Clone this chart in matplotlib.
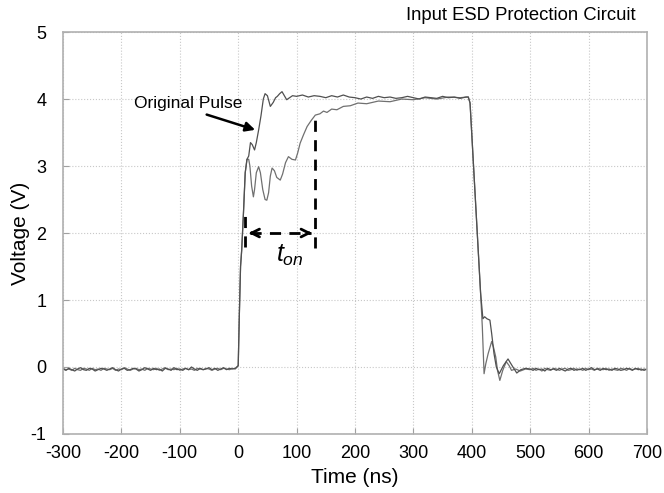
import numpy as np
import matplotlib.pyplot as plt

plt.rcParams['font.family'] = ['Liberation Sans', 'DejaVu Sans']
plt.rcParams['axes.unicode_minus'] = False
plt.rcParams['mathtext.fontset'] = 'custom'
plt.rcParams['mathtext.it'] = 'Liberation Sans:italic'
plt.rcParams['mathtext.rm'] = 'Liberation Sans'

# --- data (time in ns, voltage in V) ---
t_pre = np.arange(-300, 0, 5)
v_pre1 = [-0.03, -0.05, -0.02, -0.04, -0.06, -0.03, -0.01, -0.04, -0.05, -0.02,
          -0.03, -0.06, -0.04, -0.02, -0.03, -0.05, -0.03, -0.01, -0.04, -0.06,
          -0.03, -0.02, -0.05, -0.04, -0.02, -0.03, -0.06, -0.04, -0.01, -0.03,
          -0.05, -0.02, -0.04, -0.03, -0.06, -0.02, -0.03, -0.05, -0.01, -0.04,
          -0.03, -0.05, -0.02, -0.04, 0.00, -0.03, -0.05, -0.02, -0.04, -0.03,
          -0.01, -0.04, -0.02, -0.05, -0.03, -0.01, -0.04, -0.02, -0.03, -0.02]
v_pre2 = [-0.02, -0.04, -0.03, -0.05, -0.02, -0.04, -0.05, -0.02, -0.03, -0.05,
          -0.02, -0.04, -0.03, -0.05, -0.02, -0.03, -0.04, -0.02, -0.05, -0.03,
          -0.04, -0.01, -0.03, -0.05, -0.03, -0.02, -0.04, -0.03, -0.05, -0.02,
          -0.03, -0.04, -0.02, -0.05, -0.03, -0.01, -0.04, -0.03, -0.04, -0.02,
          -0.05, -0.03, -0.02, -0.04, -0.03, -0.05, -0.02, -0.03, -0.04, -0.02,
          -0.03, -0.05, -0.03, -0.02, -0.04, -0.02, -0.03, -0.04, -0.02, -0.03]

# original pulse: rising edge and overshoot
t_rise1 = [0, 2, 4, 6, 9, 12, 15, 18, 21, 24, 28, 31, 35, 39, 43, 46, 50, 55, 60,
           64, 67, 71, 75, 79, 83, 88, 93]
v_rise1 = [0.02, 0.8, 1.5, 1.75, 2.3, 2.9, 3.1, 3.15, 3.35, 3.32, 3.24, 3.35, 3.54,
           3.75, 4.0, 4.08, 4.05, 3.89, 3.95, 4.02, 4.04, 4.08, 4.11, 4.05, 3.99,
           4.02, 4.05]
t_top1 = np.arange(100, 391, 10)
v_top1 = [4.04, 4.06, 4.03, 4.05, 4.04, 4.02, 4.05, 4.03, 4.06, 4.03,
          4.02, 4.00, 4.03, 4.01, 4.04, 4.02, 4.03, 4.01, 4.02, 4.04,
          4.02, 4.00, 4.03, 4.02, 4.01, 4.04, 4.02, 4.03, 4.01, 4.03]
t_fall1 = [394, 397, 400, 405, 410, 415, 419, 422, 426, 431, 434, 438, 442, 447,
           454, 462, 469, 477, 484, 492]
v_fall1 = [4.03, 3.94, 3.47, 2.68, 1.9, 1.11, 0.72, 0.75, 0.72, 0.7, 0.5, 0.2, 0.0,
           -0.1, 0.02, 0.12, 0.02, -0.09, -0.04, -0.02]

# protected pulse: slower turn-on with ringing
t_rise2 = [0, 2, 4, 6, 9, 12, 15, 18, 20, 23, 26, 28, 31, 35, 38, 42, 46, 49, 52,
           55, 58, 62, 66, 72, 76, 81, 86, 92, 98, 102, 106, 112, 118, 125, 132,
           140, 146, 152, 160, 169, 180, 192, 205, 220, 240, 260, 280, 300, 320,
           340, 360, 380, 392]
v_rise2 = [0.02, 0.8, 1.5, 1.75, 2.3, 2.9, 3.1, 3.1, 3.0, 2.7, 2.54, 2.65, 2.9,
           2.99, 2.9, 2.65, 2.5, 2.49, 2.6, 2.85, 2.97, 2.93, 2.83, 2.79, 2.88,
           3.05, 3.14, 3.1, 3.09, 3.2, 3.34, 3.47, 3.59, 3.68, 3.76, 3.78, 3.82,
           3.8, 3.85, 3.84, 3.89, 3.9, 3.94, 3.93, 3.97, 3.96, 4.0, 3.99, 4.02,
           4.0, 4.03, 4.02, 4.03]
t_fall2 = [394, 397, 400, 405, 410, 415, 418, 421, 424, 428, 434, 437, 441, 444,
           448, 453, 459, 464, 468, 475, 483, 492]
v_fall2 = [4.03, 3.94, 3.47, 2.68, 1.9, 1.11, 0.6, -0.1, 0.05, 0.2, 0.38, 0.3, 0.15,
           -0.05, -0.2, -0.05, 0.08, 0.02, -0.05, -0.03, -0.06, -0.03]

t_post = np.arange(500, 701, 5)
v_post1 = [-0.03, -0.05, -0.02, -0.04, -0.03, -0.06, -0.02, -0.04, -0.03, -0.05,
           -0.02, -0.04, -0.06, -0.03, -0.02, -0.05, -0.03, -0.04, -0.02, -0.05,
           -0.03, -0.01, -0.04, -0.03, -0.05, -0.02, -0.04, -0.03, -0.05, -0.02,
           -0.03, -0.05, -0.04, -0.02, -0.03, -0.05, -0.02, -0.04, -0.03, -0.05, -0.03]
v_post2 = [-0.04, -0.02, -0.05, -0.03, -0.06, -0.02, -0.04, -0.05, -0.02, -0.03,
           -0.05, -0.03, -0.02, -0.05, -0.04, -0.02, -0.05, -0.03, -0.05, -0.02,
           -0.04, -0.03, -0.05, -0.02, -0.03, -0.04, -0.02, -0.05, -0.03, -0.04,
           -0.05, -0.02, -0.03, -0.05, -0.02, -0.04, -0.03, -0.02, -0.05, -0.03, -0.04]

x_ticks = np.arange(-300, 701, 100)
y_ticks = np.arange(-1, 6, 1)

t1 = np.concatenate([t_pre, t_rise1, t_top1, t_fall1, t_post])
v1 = np.concatenate([v_pre1, v_rise1, v_top1, v_fall1, v_post1])
t2 = np.concatenate([t_pre, t_rise2, t_fall2, t_post])
v2 = np.concatenate([v_pre2, v_rise2, v_fall2, v_post2])

fig = plt.figure(figsize=(6.64, 4.93), dpi=100)
ax = fig.add_axes([0.0949, 0.1197, 0.8795, 0.8153])

ax.plot(t2, v2, color='#707070', lw=0.9)
ax.plot(t1, v1, color='#505050', lw=0.9)

ax.set_xlim(-300, 700)
ax.set_ylim(-1, 5)
ax.set_xticks(x_ticks)
ax.set_yticks(y_ticks)
ax.grid(True, color='#c8c8c8', linestyle=':', linewidth=0.8)
ax.tick_params(direction='in', length=4, color='#a0a0a0', labelsize=13)
ax.tick_params(axis='x', pad=8)
ax.tick_params(axis='y', pad=12)
for s in ax.spines.values():
    s.set_color('#b0b0b0')
    s.set_linewidth(1.2)

ax.set_xlabel('Time (ns)', fontsize=15, labelpad=4)
ax.set_ylabel('Voltage (V)', fontsize=15, labelpad=0)
fig.text(0.958, 0.968, 'Input ESD Protection Circuit', ha='right', va='center', fontsize=13.3)

# turn-on time marker
ax.plot([132, 132], [1.78, 3.76], color='black', lw=2, ls=(0, (4, 3)))
ax.plot([12, 12], [1.79, 2.3], color='black', lw=2, ls=(0, (4, 3)))
ax.plot([20, 124], [2.0, 2.0], color='black', lw=2, ls=(0, (4, 3)))
ax.annotate('', xy=(13, 2.0), xytext=(30, 2.0),
            arrowprops=dict(arrowstyle='->', lw=2, color='black', mutation_scale=14))
ax.annotate('', xy=(131, 2.0), xytext=(114, 2.0),
            arrowprops=dict(arrowstyle='->', lw=2, color='black', mutation_scale=14))
ax.text(89, 1.67, r'$t_{on}$', fontsize=18, ha='center', va='center')

ax.annotate('Original Pulse', xy=(29, 3.54), xytext=(-178, 3.94),
            fontsize=12.5, ha='left', va='center',
            arrowprops=dict(arrowstyle='-|>', lw=1.8, color='black', mutation_scale=14,
                            shrinkA=3, shrinkB=0,
                            relpos=(0.55, 0.0)))

fig.savefig('out.png', dpi=100)
